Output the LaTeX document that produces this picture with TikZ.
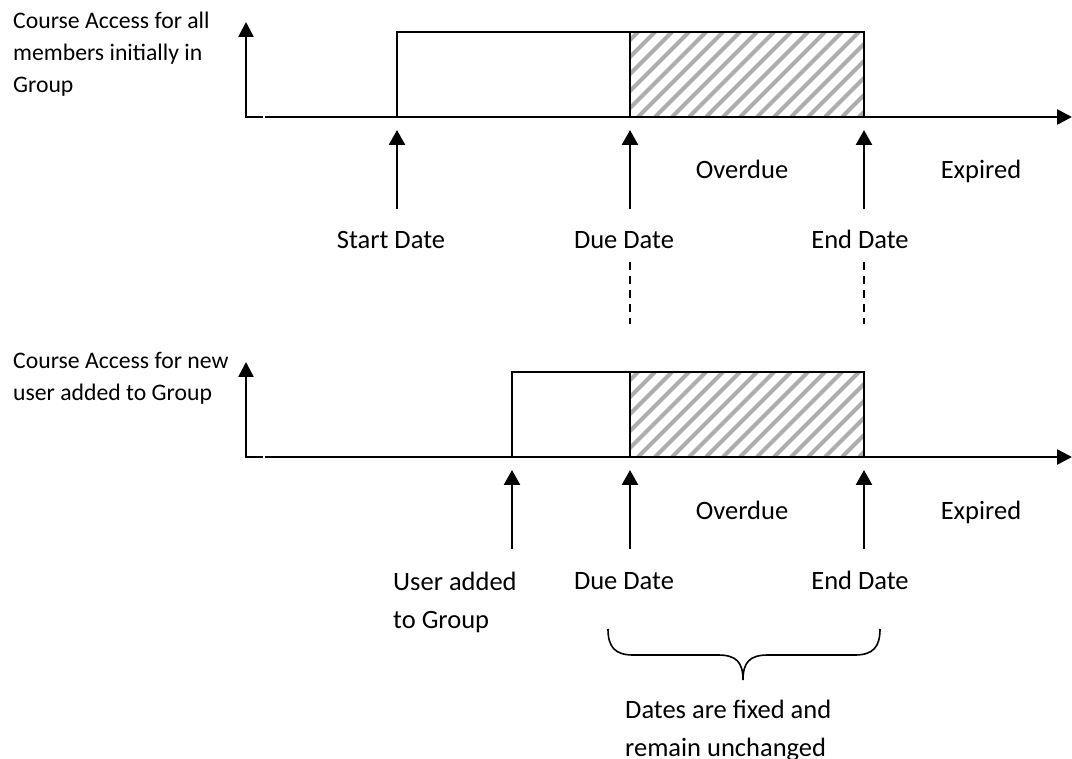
\documentclass[tikz,border=0pt]{standalone}
\usepackage{fontspec}
\setmainfont{Carlito}
\usepackage{tikz}
\usetikzlibrary{arrows.meta}

\tikzset{
  raxis/.style={line width=2.6pt, -{Triangle[length=15pt,width=15pt]}},
  laxis/.style={line width=2.6pt, {Triangle[length=15pt,width=15pt]}-},
  pointer/.style={line width=2.6pt, -{Triangle[length=15pt,width=16pt]}},
  bar/.style={line width=2pt},
  hatch/.style={line width=4pt, color=black!32},
  guide/.style={line width=2pt, dash pattern=on 8pt off 6pt},
  biglabel/.style={font=\fontsize{26.5}{38}\selectfont, inner sep=0pt, anchor=base},
  smalllabel/.style={font=\fontsize{23.7}{32}\selectfont, inner sep=0pt, anchor=base west, align=left},
}

\begin{document}
\begin{tikzpicture}[x=1pt,y=-1pt]
    \useasboundingbox (0,0) rectangle (1072,759);

    % draw both timelines
    \foreach \row/\dy/\first in {A/0/397,B/340/512} {
      \coordinate (orig\row) at (246,117+\dy);
      \coordinate (ytip\row) at (246,22+\dy);
      \coordinate (gapl\row) at (263,117+\dy);
      \coordinate (gapr\row) at (265,117+\dy);
      \coordinate (xtip\row) at (1072,117+\dy);

      % draw hatched part
      \begin{scope}
        \clip (630,117+\dy) rectangle (864,32+\dy);
        \foreach \h in {536,553,...,880}
        \draw[hatch] (\h,117+\dy) -- ++(85,-85);
      \end{scope}

      % draw access box
      \draw[bar] (\first,117+\dy) rectangle (864,32+\dy);
      \draw[bar] (630,117+\dy) -- (630,32+\dy);

      % draw axes
      \draw[laxis] (ytip\row) -- (orig\row) -- (gapl\row);
      \draw[raxis] (gapr\row) -- (xtip\row);

      % draw date arrows
      \foreach \x/\n in {\first/s,630/d,864/e} {
        \coordinate (\n low\row) at (\x,209+\dy);
        \coordinate (\n tip\row) at (\x,130+\dy);
        \draw[pointer] (\n low\row) -- (\n tip\row);
      }

      % draw nodes
      \node[biglabel] (over\row) at (742,179+\dy) {Overdue};
      \node[biglabel] (exp\row) at (981,179+\dy) {Expired};
      \node[biglabel] (due\row) at (624,249+\dy) {Due Date};
      \node[biglabel] (end\row) at (860,249+\dy) {End Date};
    }

    \node[biglabel] (start) at (391,249) {Start Date};
    \node[biglabel, anchor=base west, align=left] (added) at (393,628) {User added\\to Group};
    \node[smalllabel] (allmembers) at (13,93) {Course Access for all\\members initially in\\Group};
    \node[smalllabel] (newuser) at (13,401) {Course Access for new\\user added to Group};

    % draw dashed guides
    \foreach \x/\n in {630/due,864/end} {
      \coordinate (\n top) at (\x,262);
      \coordinate (\n bot) at (\x,324);
      \draw[guide] (\n top) -- (\n bot);
    }

    % draw brace
    \coordinate (bl) at (608,629);
    \coordinate (br) at (880,629);
    \coordinate (bt) at (743,680);
    \draw[line width=1.6pt] (bl) .. controls (608,647) and (615,655) .. (633,655) -- (718,655)
      .. controls (736,655) and (743,662) .. (bt)
      .. controls (743,662) and (750,655) .. (768,655) -- (855,655)
      .. controls (873,655) and (880,647) .. (br);
    \node[biglabel, anchor=base west, align=left] (fixed) at (625,756) {Dates are fixed and\\remain unchanged};

\end{tikzpicture}
\end{document}
